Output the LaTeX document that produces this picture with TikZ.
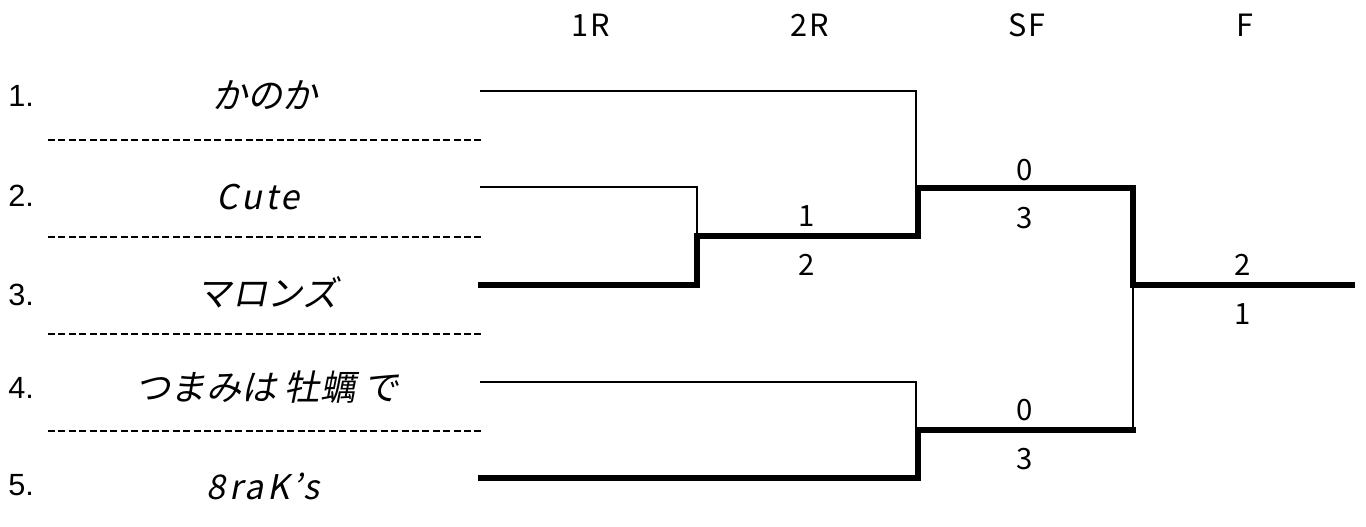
\documentclass[tikz,border=0pt]{standalone}
\usepackage{fontspec}
\newfontfamily\jpfont[FakeSlant=0.2]{Noto Sans CJK JP}
\newfontfamily\latfont[FakeSlant=0.2,LetterSpace=10]{Noto Sans CJK JP}
\newfontfamily\hdfont[LetterSpace=6]{Noto Sans CJK JP}
\newfontfamily\numfont{Liberation Sans}
\begin{document}
\begin{tikzpicture}[x=0.75pt,y=-0.75pt,
  thinln/.style={line width=1.6pt, line join=miter},
  thickln/.style={line width=4.9pt, line cap=rect, line join=miter},
  sepln/.style={line width=1.4pt, dash pattern=on 5.2pt off 2.6pt},
  hd/.style={inner sep=0pt, font=\hdfont\fontsize{23}{24}\selectfont},
  sc/.style={inner sep=0pt, font=\hdfont\fontsize{22}{24}\selectfont},
  jname/.style={inner sep=0pt, font=\jpfont\fontsize{26.5}{28}\selectfont},
  lname/.style={inner sep=0pt, font=\latfont\fontsize{25.5}{28}\selectfont},
  idx/.style={inner sep=0pt, anchor=west, font=\numfont\fontsize{23}{26}\selectfont}]
\useasboundingbox (0,0) rectangle (1366,526);
% headers
\node[hd] (h1) at (591,25) {1R};
\node[hd] (h2) at (810,25) {2R};
\node[hd] (h3) at (1027,25) {SF};
\node[hd] (h4) at (1245,25) {F};
% index numbers
\node[idx] (k1) at (8,96) {1.};
\node[idx] (k2) at (8,196) {2.};
\node[idx] (k3) at (8,295) {3.};
\node[idx] (k4) at (8,388) {4.};
\node[idx] (k5) at (8,485) {5.};
% names
\node[jname] (n1) at (265,95) {かのか};
\node[lname] (n2) at (258,197) {Cute};
\node[jname] (n3) at (267,292) {マロンズ};
\node[jname] (n4) at (267,387) {つまみは 牡蠣 で};
\node[lname] (n5) at (263,486) {8raK’s};
% separators
\coordinate (d1a) at (48,140); \coordinate (d1b) at (482,140);
\coordinate (d2a) at (48,237); \coordinate (d2b) at (482,237);
\coordinate (d3a) at (48,334); \coordinate (d3b) at (482,334);
\coordinate (d4a) at (48,431); \coordinate (d4b) at (482,431);
\draw[sepln] (d1a) -- (d1b);
\draw[sepln] (d2a) -- (d2b);
\draw[sepln] (d3a) -- (d3b);
\draw[sepln] (d4a) -- (d4b);
% bracket coordinates
\coordinate (s1) at (480,91);
\coordinate (s2) at (480,187);
\coordinate (s3) at (481,285);
\coordinate (s4) at (480,382);
\coordinate (s5) at (481,478);
\coordinate (c1) at (916,91);
\coordinate (c2) at (697,187);
\coordinate (c3) at (697,285);
\coordinate (q1) at (697,236);
\coordinate (q1r) at (918,236);
\coordinate (sfA) at (918,188);
\coordinate (sfAr) at (1133,188);
\coordinate (fin) at (1133,285);
\coordinate (finr) at (1352,285);
\coordinate (c4) at (916,382);
\coordinate (c5) at (918,478);
\coordinate (sfB) at (918,430);
\coordinate (sfBr) at (1133,430);
% thin lines (losers)
\draw[thinln] (s1) -- (c1) -- (c1 |- sfA);
\draw[thinln] (s2) -- (c2) -- (q1);
\draw[thinln] (s4) -- (c4) -- (c4 |- sfB);
\draw[thinln] (sfBr) -- (fin);
% thick lines (winners)
\draw[thickln] (s3) -- (c3) -- (q1) -- (q1r) -- (sfA);
\draw[thickln] (sfA) -- (sfAr) -- (fin) -- (finr);
\draw[thickln] (s5) -- (c5) -- (sfB) -- (sfBr);
% scores
\node[sc] (r2a) at (807,216) {1};
\node[sc] (r2b) at (807,265) {2};
\node[sc] (sfa1) at (1025,170) {0};
\node[sc] (sfa2) at (1025,218) {3};
\node[sc] (sfb1) at (1025,410) {0};
\node[sc] (sfb2) at (1025,459) {3};
\node[sc] (f1) at (1243,265) {2};
\node[sc] (f2) at (1243,314) {1};
\end{tikzpicture}
\end{document}
